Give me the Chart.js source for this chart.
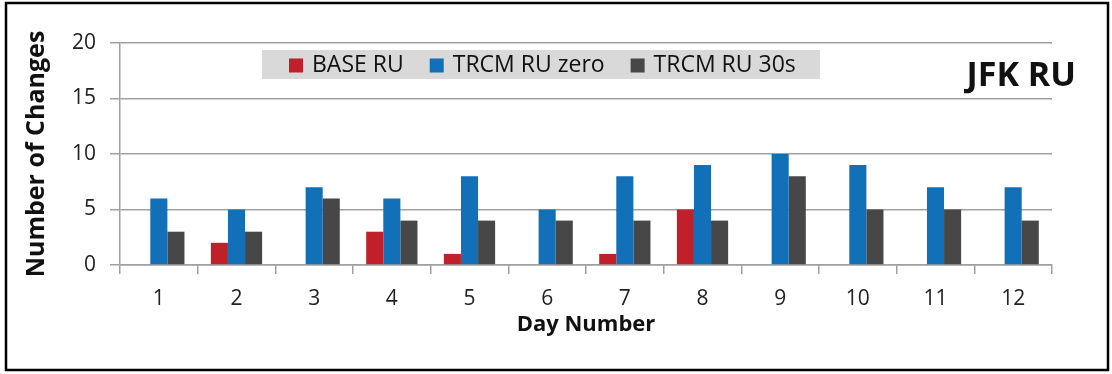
<!DOCTYPE html>
<html>
<head>
<meta charset="utf-8">
<script src="https://cdn.jsdelivr.net/npm/chart.js@4.4.0/dist/chart.umd.min.js"></script>
<style>
    html, body { margin: 0; padding: 0; background: #ffffff; }
    #wrap { width: 1112px; height: 374px; position: relative; }
</style>
</head>
<body>
<div id="wrap"><canvas id="chart"></canvas></div>
<script>
// values
const dayLabels = ["1", "2", "3", "4", "5", "6", "7", "8", "9", "10", "11", "12"];
const baseRU = [0, 2, 0, 3, 1, 0, 1, 5, 0, 0, 0, 0];
const trcmZero = [6, 5, 7, 6, 8, 5, 8, 9, 10, 9, 7, 7];
const trcm30s = [3, 3, 6, 4, 4, 4, 4, 4, 8, 5, 5, 4];
const seriesNames = ["BASE RU", "TRCM RU zero", "TRCM RU 30s"];
const seriesColors = ["#C0202A", "#1170B8", "#474747"];
const yTicks = [0, 5, 10, 15, 20];

const FONT = "'Open Sans', 'Noto Sans', sans-serif";

// grey legend box drawn inside the plot, plus the title text and the frame
const decorPlugin = {
    id: 'decor',
    afterDraw(chart) {
        const ctx = chart.ctx;
        ctx.save();
        // legend
        const boxL = 262, boxT = 50, boxW = 558, boxH = 29;
        ctx.fillStyle = '#D9D9D9';
        ctx.fillRect(boxL, boxT, boxW, boxH);
        ctx.font = "23px " + FONT;
        ctx.textBaseline = 'middle';
        let x = boxL + 27;
        const midY = boxT + boxH / 2 + 1;
        chart.data.datasets.forEach(function(ds, i) {
            ctx.fillStyle = ds.backgroundColor;
            ctx.fillRect(x, midY - 7, 14, 14);
            x += 23;
            ctx.fillStyle = '#111111';
            ctx.textAlign = 'left';
            ctx.fillText(ds.label, x, midY);
            x += ctx.measureText(ds.label).width + 26;
        });
        // title
        ctx.font = "bold 34px " + FONT;
        ctx.fillStyle = '#111111';
        ctx.textAlign = 'right';
        ctx.textBaseline = 'middle';
        ctx.fillText("JFK RU", 1076, 76);
        // frame
        ctx.strokeStyle = '#000000';
        ctx.lineWidth = 2.5;
        ctx.strokeRect(6, 3, 1102, 367);
        ctx.restore();
    }
};

const ctx = document.getElementById('chart').getContext('2d');
new Chart(ctx, {
    type: 'bar',
    data: {
        labels: dayLabels,
        datasets: [
            { label: seriesNames[0], data: baseRU, backgroundColor: seriesColors[0] },
            { label: seriesNames[1], data: trcmZero, backgroundColor: seriesColors[1] },
            { label: seriesNames[2], data: trcm30s, backgroundColor: seriesColors[2] }
        ]
    },
    options: {
        responsive: true,
        maintainAspectRatio: false,
        animation: false,
        layout: { padding: { left: 0, right: 60, top: 43, bottom: 0 } },
        datasets: {
            bar: { categoryPercentage: 0.66, barPercentage: 1.0 }
        },
        plugins: {
            legend: { display: false },
            tooltip: { enabled: false }
        },
        scales: {
            x: {
                grid: {
                    drawOnChartArea: false,
                    drawTicks: true,
                    tickLength: 9,
                    offset: true,
                    color: '#A0A0A0',
                    lineWidth: 1.5
                },
                border: { color: '#A0A0A0', width: 1.5 },
                ticks: {
                    color: '#222222',
                    font: { family: FONT, size: 21 },
                    padding: 12,
                    maxRotation: 0
                },
                title: {
                    display: true,
                    text: 'Day Number',
                    color: '#111111',
                    font: { family: FONT, size: 22, weight: 'bold' },
                    padding: { top: 0, bottom: 36 }
                },
                afterFit(scale) { scale.height = 109; }
            },
            y: {
                min: 0,
                max: 20,
                afterBuildTicks(scale) {
                    scale.ticks = yTicks.map(function(v) { return { value: v }; });
                },
                grid: {
                    color: '#A0A0A0',
                    lineWidth: 1.5,
                    drawTicks: true,
                    tickLength: 10
                },
                border: { color: '#A0A0A0', width: 1.5 },
                ticks: {
                    color: '#222222',
                    font: { family: FONT, size: 21 },
                    padding: 14
                },
                title: {
                    display: true,
                    text: 'Number of Changes',
                    color: '#111111',
                    font: { family: FONT, size: 25, weight: 'bold' },
                    padding: { top: 22, bottom: 0 }
                },
                afterFit(scale) { scale.width = 120; }
            }
        }
    },
    plugins: [decorPlugin]
});
</script>
</body>
</html>
